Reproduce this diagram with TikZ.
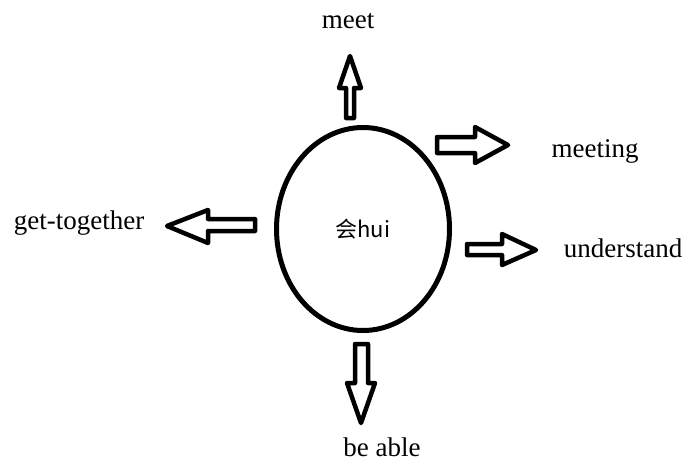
\documentclass[tikz,border=0pt]{standalone}
\usepackage{fontspec}
\setmainfont{Liberation Serif}
\newfontfamily\cjksans{Noto Sans CJK SC}
\usetikzlibrary{shapes.geometric}
\begin{document}
\begin{tikzpicture}[x=1pt,y=-1pt,
  blockarrow/.style={draw=black,line width=4.5pt,line join=round,fill=white},
  label/.style={font=\fontsize{27}{30}\selectfont,inner sep=0pt,anchor=center},
  hub/.style={ellipse,draw=black,line width=5pt,minimum width=173pt,minimum height=203pt,inner sep=0pt,
    font=\cjksans\fontsize{22}{24}\selectfont}]
\useasboundingbox[fill=white] (0,0) rectangle (687,461);

% central ellipse
\node[hub] (hub) at (363,229) {会hui};

% word labels
\node[label] (meet) at (348,21) {meet};
\node[label] (meeting) at (595,151) {meeting};
\node[label] (understand) at (623,248) {understand};
\node[label] (gettogether) at (79,223) {get-together};
\node[label] (beable) at (382,447) {be able};

% block arrows pointing away from the ellipse
% up
\draw[blockarrow] (346,118) -- (346,88) -- (339,88) -- (350,56) -- (361,88) -- (354,88) -- (354,118) -- cycle;
% upper right
\draw[blockarrow] (437,137) -- (475,137) -- (475,127) -- (508,145) -- (475,163) -- (475,153) -- (437,153) -- cycle;
% lower right
\draw[blockarrow] (467,244) -- (502,244) -- (502,234) -- (536,250) -- (502,265) -- (502,255) -- (467,255) -- cycle;
% left
\draw[blockarrow] (255,219) -- (208,219) -- (208,210) -- (167,226) -- (208,243) -- (208,231) -- (255,231) -- cycle;
% down
\draw[blockarrow] (355,344) -- (355,383) -- (347,383) -- (361,423) -- (375,383) -- (368,383) -- (368,344) -- cycle;
\end{tikzpicture}
\end{document}
